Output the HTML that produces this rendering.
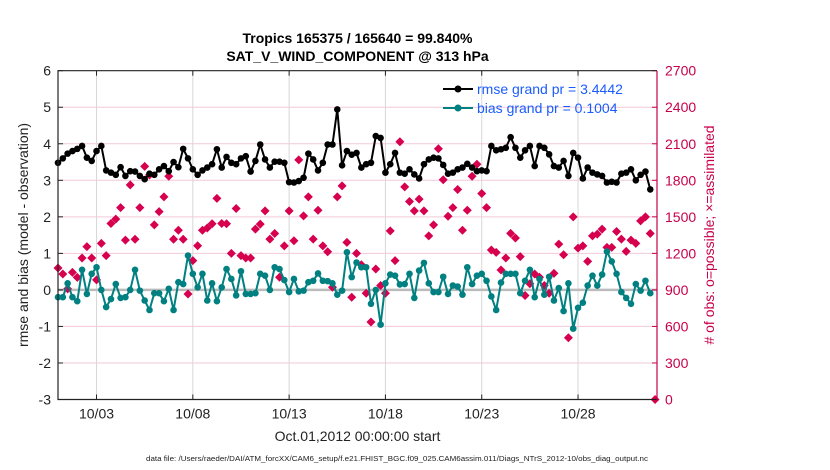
<!DOCTYPE html>
<html><head><meta charset="utf-8"><style>
body{margin:0;background:#fff;}
svg{display:block;font-family:"Liberation Sans",sans-serif;}
</style></head><body>
<svg id="chart" width="830" height="470" viewBox="0 0 830 470" xmlns="http://www.w3.org/2000/svg">
<rect width="830" height="470" fill="#fff"/>
<text x="357.5" y="43" text-anchor="middle" font-size="14" font-weight="bold">Tropics 165375 / 165640 = 99.840%</text>
<text x="357.5" y="61" text-anchor="middle" font-size="14" font-weight="bold">SAT_V_WIND_COMPONENT @ 313 hPa</text>
<g id="grid"></g>
<g id="marks"></g>
<g id="axes"></g>
<text transform="translate(28,235) rotate(-90)" text-anchor="middle" font-size="14" fill="#222">rmse and bias (model - observation)</text>
<text transform="translate(714,235) rotate(-90)" text-anchor="middle" font-size="14" fill="#c8004a"># of obs: o=possible; ×=assimilated</text>
<text x="357.5" y="441" text-anchor="middle" font-size="14" fill="#222">Oct.01,2012 00:00:00 start</text>
<text x="397" y="461" text-anchor="middle" font-size="7.6" fill="#222" textLength="502" lengthAdjust="spacingAndGlyphs">data file: /Users/raeder/DAI/ATM_forcXX/CAM6_setup/f.e21.FHIST_BGC.f09_025.CAM6assim.011/Diags_NTrS_2012-10/obs_diag_output.nc</text>
<g id="legend">
  <line x1="443" y1="89" x2="473" y2="89" stroke="#000" stroke-width="2"/>
  <circle cx="458" cy="89" r="3.5" fill="#000"/>
  <text x="477" y="94" font-size="14" fill="#1a5cff">rmse grand pr = 3.4442</text>
  <line x1="443" y1="108" x2="473" y2="108" stroke="#008080" stroke-width="2"/>
  <circle cx="458" cy="108" r="3.5" fill="#008080"/>
  <text x="477" y="113" font-size="14" fill="#1a5cff">bias grand pr = 0.1004</text>
</g>
</svg>
<script>
const rmse = [3.48,3.6,3.73,3.8,3.86,3.94,3.62,3.53,3.8,3.94,3.27,3.21,3.15,3.36,3.12,3.25,3.24,3.12,3.03,3.18,3.15,3.3,3.39,3.25,3.5,3.36,3.86,3.6,3.3,3.15,3.27,
3.35,3.44,3.85,3.35,3.64,3.48,3.44,3.6,3.66,3.24,3.53,3.98,3.57,3.35,3.51,3.51,3.48,2.95,2.94,2.98,3.07,3.73,3.57,3.27,3.48,3.98,3.98,4.94,3.41,3.8,
3.7,3.75,3.35,3.44,3.48,4.21,4.16,3.21,3.44,3.75,3.21,3.18,3.3,3.16,3.05,3.44,3.57,3.62,3.6,3.42,3.18,3.21,3.3,3.35,3.45,3.35,3.25,3.27,3.25,3.94,3.82,
3.85,3.89,4.18,3.89,3.62,3.82,3.94,3.39,3.94,3.89,3.71,3.39,3.35,3.53,3.12,3.75,3.62,3.05,3.35,3.21,3.16,3.12,2.94,2.96,2.94,3.18,3.21,3.3,3.0,3.15,3.24,2.75];
const bias = [-0.2,-0.2,0.18,-0.2,-0.31,0.55,-0.11,0.44,0.62,0,-0.47,-0.25,0.16,-0.22,-0.2,0,0.55,-0.02,-0.29,-0.55,-0.09,-0.09,-0.31,0.03,-0.55,0.21,0.16,0.94,0.44,0.07,0.44,
-0.29,0.18,-0.31,0.07,0.57,0.3,-0.15,0.51,-0.11,-0.11,-0.09,0.44,0.39,0,0.62,0.57,0.27,-0.06,0.3,-0.04,-0.02,0.21,0.25,0.45,0.25,0.24,0.18,-0.13,-0.02,1.03,
0.35,0.75,0.62,0.62,-0.38,0,-0.95,0.18,0.42,0.39,0.15,0.16,0.44,-0.22,0.53,0.74,0.18,-0.06,-0.06,0.36,-0.11,0.12,0.09,-0.13,0.62,0.16,0.39,0.44,0.25,-0.18,-0.55,
0.2,0.44,0.44,0.44,-0.09,0.25,0.55,-0.2,0.3,-0.13,0.36,-0.29,0.05,-0.58,0.18,-1.06,-0.49,-0.35,0.12,0.39,0.12,0.42,1.05,0.78,0.44,-0.06,-0.22,-0.38,0.16,-0.02,0.25,-0.09];
const obsCount = [1080,1031,908,1044,1003,1162,1255,1162,982,1282,1181,1445,1481,1576,1309,1762,1316,1576,1914,1844,1434,1543,1664,1833,1316,1390,1316,866,1140,1263,1390,
1408,1443,1652,1445,1443,1200,1568,1181,1162,1162,1399,1440,1549,1317,1363,1004,1262,1549,1304,1968,1508,1664,1317,1554,1262,1213,922,1664,1754,1290,
840,1200,1107,873,636,1072,936,873,1385,1140,2117,1746,1626,1549,1645,1549,1344,1434,2059,1805,1505,1576,1724,1390,1554,1833,1932,1692,1576,1228,1208,
1063,1162,1364,1326,1173,854,950,1031,1004,936,873,1036,1276,1189,507,1500,1243,1262,1134,1344,1358,1399,1249,1249,1380,1317,1216,1309,1282,1467,1500,1363,0];
const stepDays = 0.25;
const leftTicks = [-3,-2,-1,0,1,2,3,4,5,6];
const rightTicks = [0,300,600,900,1200,1500,1800,2100,2400,2700];
const xTickDays = [2,7,12,17,22,27];
const xTickLabels = ["10/03","10/08","10/13","10/18","10/23","10/28"];

const NS="http://www.w3.org/2000/svg";
const L=58,R=657,T=70.7,B=399.5;
const dayMax=31.1;
const xS=d=>L+(R-L)*d/dayMax;
const yL=v=>B-(B-T)*(v+3)/9;
const yR=c=>B-(B-T)*c/2700;
function mk(tag,attrs,parent){const e=document.createElementNS(NS,tag);for(const k in attrs)e.setAttribute(k,attrs[k]);parent.appendChild(e);return e;}
const grid=document.getElementById('grid'),marks=document.getElementById('marks'),axes=document.getElementById('axes');

xTickDays.forEach((d,i)=>{
  const g=mk('line',{x1:xS(d),x2:xS(d),y1:T,y2:B,stroke:'#d8d8d8','stroke-width':1},grid);
  
  
  const tk=mk('line',{x1:xS(d),x2:xS(d),y1:B,y2:B-5,stroke:'#222'},axes);
  
  
  const t=mk('text',{x:xS(d),y:B+19,'text-anchor':'middle','font-size':14,fill:'#222'},axes);
  t.textContent=xTickLabels[i];
  
  
  const tt=mk('line',{x1:xS(d),x2:xS(d),y1:T,y2:T+5,stroke:'#222'},axes);
  
  
});
rightTicks.forEach(c=>{
  if(c>0&&c<2700){const g=mk('line',{x1:L,x2:R,y1:yR(c),y2:yR(c),stroke:'#f2c9d9','stroke-width':1},grid);
  
  }
  const tk=mk('line',{x1:R,x2:R-5,y1:yR(c),y2:yR(c),stroke:'#c8004a'},axes);
  
  
  const t=mk('text',{x:R+8,y:yR(c)+5,'font-size':14,fill:'#c8004a'},axes);
  t.textContent=c;
  
  
});
leftTicks.forEach(v=>{
  const tk=mk('line',{x1:L,x2:L+5,y1:yL(v),y2:yL(v),stroke:'#222'},axes);
  
  
  const t=mk('text',{x:L-7,y:yL(v)+5,'text-anchor':'end','font-size':14,fill:'#222'},axes);
  t.textContent=v;
  
  
});
const zl=mk('line',{x1:L,x2:R,y1:yL(0),y2:yL(0),stroke:'#bbb','stroke-width':2.5},grid);


const fr=mk('path',{d:`M${R},${B}H${L}V${T}H${R}`,fill:'none',stroke:'#222','stroke-width':1.2},axes);


const ra=mk('line',{x1:R,x2:R,y1:T,y2:B,stroke:'#c8004a','stroke-width':1.2},axes);



obsCount.forEach((c,i)=>{
  if(c==null)return;
  const x=xS(i*stepDays),y=yR(c);
  const p=mk('path',{d:`M${x},${y-4.5}L${x+4.5},${y}L${x},${y+4.5}L${x-4.5},${y}Z`,fill:'#d6004f'},marks);
  
  
});
function series(vals,color,name){
  const pts=vals.map((v,i)=>xS(i*stepDays)+','+yL(v)).join(' ');
  const pl=mk('polyline',{points:pts,fill:'none',stroke:color,'stroke-width':2,'stroke-linejoin':'round'},marks);
  
  
  vals.forEach((v,i)=>{
    const c=mk('circle',{cx:xS(i*stepDays),cy:yL(v),r:3.3,fill:color},marks);
    
    
  });
}
series(bias,'#008080','bias');
series(rmse,'#000','rmse');
</script>
</body></html>
